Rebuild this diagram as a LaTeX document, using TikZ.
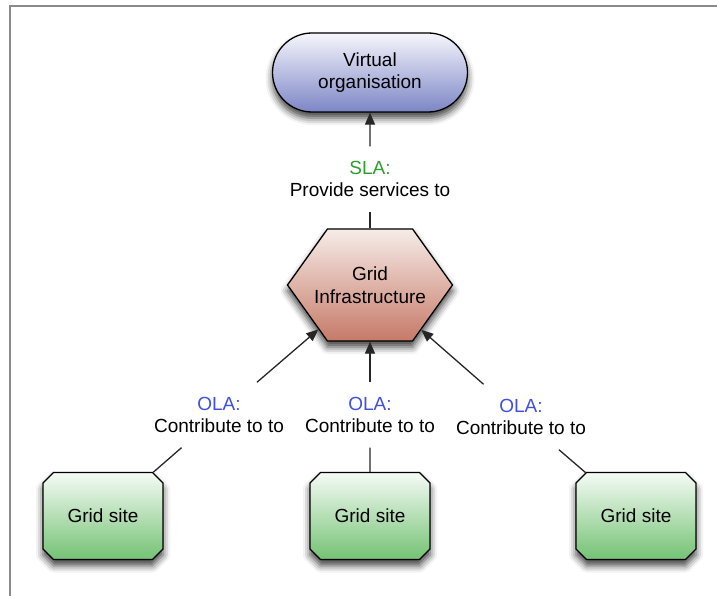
\documentclass[tikz,border=0pt]{standalone}
\usepackage{fontspec}
\setmainfont{Liberation Sans}
\usetikzlibrary{shapes.misc,shapes.symbols,arrows.meta,shadows.blur}
\definecolor{olablue}{HTML}{3F4FE0}
\definecolor{slagreen}{HTML}{2E9E2E}
\definecolor{voTop}{HTML}{F6F6FC}
\definecolor{voBot}{HTML}{7C86C6}
\definecolor{hxTop}{HTML}{F6ECE8}
\definecolor{hxBot}{HTML}{C67A68}
\definecolor{gsTop}{HTML}{F6FBF6}
\definecolor{gsBot}{HTML}{74C274}
\definecolor{framegray}{HTML}{8A8A8A}
\begin{document}
\begin{tikzpicture}[x=1pt,y=-1pt,
  every node/.style={font=\fontsize{19}{22.5}\selectfont, align=center},
  shadowed/.style={blur shadow={shadow xshift=0pt,shadow yshift=-6pt,shadow blur radius=7pt,shadow opacity=75}},
  vo/.style={rounded rectangle, draw=black, line width=1.3pt, minimum width=195pt, minimum height=79pt, inner sep=0pt, top color=voTop, bottom color=voBot, shadowed},
  hexa/.style={signal, signal to=west and east, signal pointer angle=109, draw=black, line width=1.3pt, minimum width=165pt, minimum height=112pt, inner sep=0pt, top color=hxTop, bottom color=hxBot, shadowed},
  site/.style={chamfered rectangle, chamfered rectangle xsep=12pt, draw=black, line width=1.3pt, minimum width=120pt, minimum height=87pt, inner sep=0pt, top color=gsTop, bottom color=gsBot, shadowed},
  lbl/.style={minimum height=65pt, inner sep=0pt},
  conn/.style={line width=1.3pt, draw=black!85},
  arr/.style={conn, -{Triangle[length=12pt,width=10pt]}},
]
\useasboundingbox (0,0) rectangle (717,596);
\draw[framegray, line width=1.5pt] (10,596) -- (10,6) -- (717,6);

\node[vo] (vo) at (370,72.5) {Virtual\\organisation};
\node[hexa] (hex) at (370,285) {};
\node (hextext) at (370,285) {Grid\\Infrastructure};
\node[site] (gs1) at (103,516) {Grid site};
\node[site] (gs2) at (370,516) {Grid site};
\node[site] (gs3) at (636,516) {Grid site};

\node[lbl] (sla) at (370,179) {\textcolor{slagreen}{SLA:}\\Provide services to};
\node[lbl] (ola1) at (219,415) {\textcolor{olablue}{OLA:}\\Contribute to to};
\node[lbl] (ola2) at (370,415) {\textcolor{olablue}{OLA:}\\Contribute to to};
\node[lbl] (ola3) at (521,417) {\textcolor{olablue}{OLA:}\\Contribute to to};

\draw[conn] (hex) -- (sla);
\draw[arr] (sla) -- (vo);
\draw[conn] (gs1) -- (ola1);
\draw[arr] (ola1) -- (hex);
\draw[conn] (gs2) -- (ola2);
\draw[arr] (ola2) -- (hex);
\draw[conn] (gs3) -- (ola3);
\draw[arr] (ola3) -- (hex);
\end{tikzpicture}
\end{document}
